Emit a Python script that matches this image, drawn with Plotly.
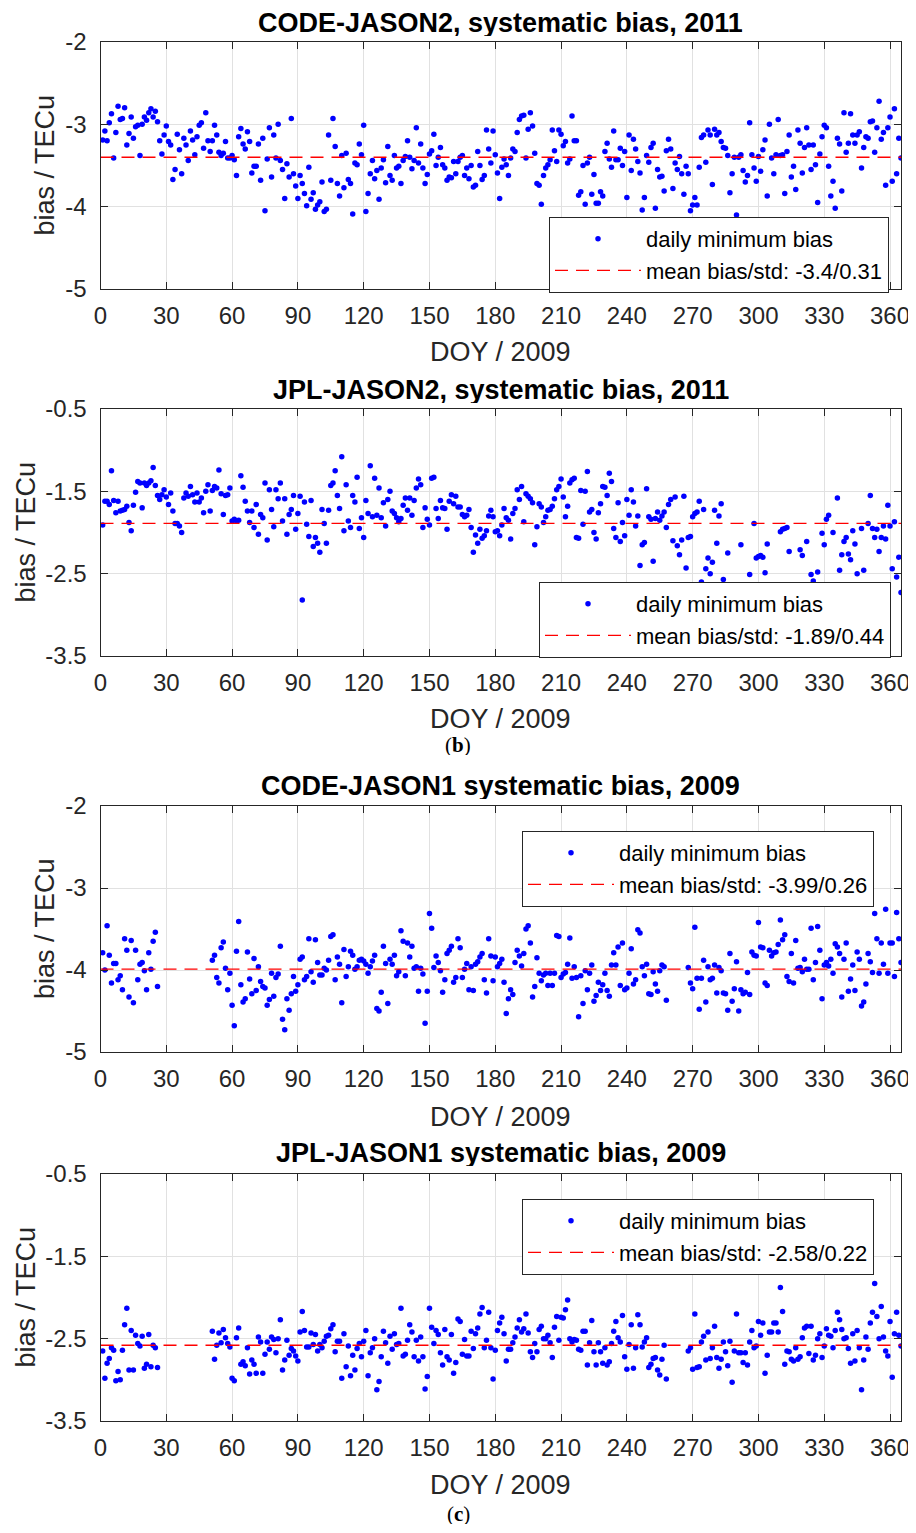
import plotly.graph_objects as go

# ---------------- DATA ----------------
# Panel 1: CODE-JASON2 2011 (consecutive DOY from 1)
code2_vals = [
    -3.19, -3.08, -3.20, -2.98, -2.87, -3.41, -3.10, -2.78, -2.94, -2.93,
    -2.80, -3.25, -3.11, -2.91, -3.17, -3.03, -3.01, -3.38, -3.00,
    -2.91, -2.95, -2.86, -2.81, -2.91, -2.84, -2.97, -3.20, -3.36, -3.13,
    -3.02, -3.21, -3.25, -3.67, -3.55, -3.12, -3.31, -3.60, -3.17, -3.25,
    -3.44, -3.08, -3.19, -3.37, -3.15, -3.01, -2.98, -3.29, -2.86, -3.20,
    -3.33, -3.20, -3.01, -3.13, -3.34, -3.38, -3.35, -3.21, -3.41, -3.41,
    -3.38, -3.43, -3.62, -3.15, -3.05, -3.24, -3.30, -3.09, -3.21, -3.59,
    -3.51, -3.51, -3.24, -3.68, -3.17, -4.05, -3.42, -3.04, -3.64, -3.13,
    -3.41, -3.00, -3.44, -3.55, -3.90, -3.48, -3.64, -2.93, -3.60, -3.75,
    -3.90, -3.62, -3.72, -3.84, -3.99, -3.52, -3.91, -3.83, -4.03, -3.98,
    -3.94, -3.70, -4.06, -4.03, -3.13, -3.68, -2.93, -3.27, -3.72, -3.87,
    -3.38, -3.77, -3.35, -3.67, -3.72, -4.09, -3.47, -3.49, -3.24, -3.37,
    -3.01, -4.06, -3.84,
    -3.60, -3.44, -3.66, -3.56, -3.91, -3.53, -3.43, -3.71, -3.27, -3.62,
    -3.68, -3.38, -3.53, -3.51, -3.72, -3.44, -3.39, -3.20, -3.40, -3.54,
    -3.44, -3.04, -3.47, -3.24, -3.53, -3.72, -3.61, -3.36, -3.32, -3.12,
    -3.50, -3.40, -3.28, -3.49, -3.53, -3.68, -3.64, -3.65, -3.45, -3.60,
    -3.45, -3.40, -3.38, -3.62, -3.53, -3.66, -3.50, -3.76, -3.74, -3.33,
    -3.50, -3.67, -3.62, -3.07, -3.30, -3.47, -3.08, -3.37, -3.59, -3.90,
    -3.52, -3.42, -3.49, -3.62, -3.41, -3.30, -3.33, -3.10, -2.94, -2.90,
    -2.89, -3.41, -3.06, -2.86, -3.02, -3.35, -3.72, -3.74, -3.97, -3.62,
    -3.53, -3.49, -3.43, -3.07, -3.32, -3.45, -3.07, -3.12, -3.26, -3.21,
    -3.47, -3.42, -2.90, -3.20, -3.20, -3.86, -3.82, -3.50, -3.97, -3.47,
    -3.40, -3.85, -3.61, -3.96, -3.96, -3.82, -3.87, -3.33, -3.23, -3.42,
    -3.52, -3.08, -3.43, -3.43, -3.29, -3.50, -3.33, -3.89, -3.13, -3.56,
    -3.18, -3.30, -3.45, -3.59, -4.04,
    -3.89, -3.38, -3.46, -3.28, -3.23, -4.02, -3.55, -3.64, -3.63, -3.81,
    -3.32, -3.18, -3.30, -3.78, -3.47, -3.55, -3.39, -3.60, -3.85, -3.51,
    -3.60, -4.05, -3.98, -3.89, -3.98, -3.52, -3.16, -3.13, -3.46, -3.07,
    -3.13, -3.73, -3.06, -3.13, -3.10, -3.21, -3.28, -3.29, -3.38, -3.83,
    -3.60, -3.40, -4.10, -3.40, -3.37, -3.56, -3.70, -3.62, -2.98, -3.37,
    -3.53, -3.69, -3.39, -3.57, -3.31, -3.19, -3.87, -3.00, -3.41, -3.60,
    -3.37, -2.94, -3.38, -3.37, -3.84, -3.33, -3.13, -3.64, -3.51, -3.79,
    -3.07, -3.23, -3.59, -3.28, -3.04, -3.25, -3.55, -3.25, -3.49, -3.95,
    -3.36, -3.15, -3.01, -3.04, -3.51, -3.87, -3.69, -4.02, -3.17, -3.24,
    -3.81, -2.86, -3.34, -3.23, -2.87, -3.13, -3.23, -3.13, -3.09, -3.53,
    -3.28, -3.15, -3.17, -2.97, -2.96, -3.34, -3.04, -2.72, -3.18, -3.10,
    -3.74, -3.04, -2.91, -3.69, -2.81, -3.60, -3.17, -3.41,
]
code2_start_day = 1
code2_mean = -3.4
code2_label = "mean bias/std: -3.4/0.31"

# Panel 2: JPL-JASON2 2011
jpl2_vals_a = [   # consecutive DOY from 1
    -1.91, -1.62, -1.62, -1.66, -1.25, -1.61, -1.76, -1.62, -1.74, -1.73,
    -1.72, -1.68, -1.88, -1.98, -1.67, -1.51, -1.38, -1.40, -1.70, -1.40,
    -1.43, -1.40, -1.37, -1.21, -1.43, -1.55, -1.60, -1.54, -1.48, -1.57,
    -1.66, -1.52, -1.74, -1.89, -1.89, -1.92, -2.00, -1.58, -1.52, -1.56,
    -1.44, -1.54, -1.63, -1.52, -1.63, -1.58, -1.76, -1.50, -1.42, -1.74,
    -1.49, -1.44, -1.46, -1.24, -1.53, -1.78, -1.55, -1.54, -1.46, -1.86,
    -1.84, -1.86, -1.85, -1.31, -1.45, -1.62, -1.74, -1.88, -1.74, -1.94,
    -1.66, -2.02, -1.78, -1.82, -1.40, -2.09, -1.48, -1.72, -1.93, -1.48,
    -1.59, -1.40, -1.86, -1.59, -2.02, -1.78, -1.72, -1.55, -1.96, -1.77,
    -1.56, -2.82, -1.63, -1.90, -2.05, -1.61, -2.17, -2.06, -2.13, -2.24,
    -1.72, -1.89, -2.13, -1.73, -1.43, -1.40, -1.25, -1.55, -1.71, -1.08,
    -1.98, -1.42, -1.86, -1.94, -1.55, -1.63, -1.33, -1.95, -1.82, -2.06,
    -1.61, -1.77,
    -1.19, -1.81, -1.34, -1.79, -1.46, -1.82, -1.64, -1.92, -1.60, -1.50,
    -1.74, -1.77, -1.82, -1.87, -1.83, -1.67, -1.58, -1.73, -1.58, -1.79,
    -1.61, -1.46, -1.35, -1.42, -1.94, -1.70, -1.84, -1.91, -1.34, -1.33,
    -1.71, -1.83, -1.61, -1.70, -1.71, -1.96, -1.62, -1.54, -1.65, -1.56,
    -1.69, -1.69, -1.78, -1.81, -1.79, -1.72, -1.94, -2.24, -2.03, -2.13,
    -1.96, -2.07, -2.04, -1.98, -1.80, -1.73, -1.81, -1.99, -1.98, -2.04,
    -1.91, -1.71, -1.82, -1.85, -2.08, -1.77, -1.71, -1.48, -1.60, -1.44,
    -1.87, -1.53, -1.56, -1.59, -1.64, -2.15, -1.93, -1.65, -1.69, -1.88,
    -1.81, -1.73, -1.72, -1.68, -1.59, -1.48, -1.44, -1.35, -1.57, -1.81,
    -1.68, -1.40, -1.36, -1.34, -2.06, -2.07, -1.49, -1.90, -1.50, -1.26,
    -1.75, -1.72, -2.00, -2.08, -1.76, -1.65, -1.44, -1.45, -1.55, -1.28,
    -1.38, -1.95, -2.06, -1.64, -2.11, -1.88, -2.04, -1.60, -1.79, -1.48,
    -1.63, -1.92, -1.80, -2.40,
    -2.15, -2.12, -1.47, -1.81, -1.84, -2.35, -1.83, -1.75, -1.85, -1.80,
    -1.75, -1.94, -1.66, -1.60, -2.10, -1.57, -2.16, -2.27, -2.09, -1.56,
    -2.43, -2.06, -2.05, -1.81, -1.77, -1.75, -1.62, -2.60, -1.72, -2.44,
    -2.31, -2.50, -2.36, -1.73, -2.13, -1.80, -1.65, -2.57,
]
jpl2_days_b = [
    286, 292, 296, 298, 299, 300, 301, 302, 303, 304,
    310, 311, 312, 313, 314, 319, 320, 322, 324, 325,
    327, 329, 330, 331, 332, 334, 336, 337, 338, 339,
    340, 341, 342, 343, 344, 345, 347, 348, 350, 351,
    352, 353, 354, 355, 356, 357, 358, 359, 360, 361,
    362, 363, 364, 365,
]
jpl2_vals_b = [
    -2.25, -2.15, -2.51, -1.89, -2.31, -2.29, -2.28, -2.30, -2.49, -2.14,
    -1.99, -1.96, -1.95, -1.94, -2.23, -2.21, -2.28, -2.11, -2.51, -2.59,
    -2.48, -2.01, -2.15, -1.84, -1.79, -2.00, -1.58, -2.46, -2.27, -2.11,
    -2.06, -2.26, -2.33, -1.98, -2.14, -2.50, -1.95, -2.46, -1.89, -1.55,
    -1.95, -2.06, -1.96, -2.23, -2.06, -1.92, -2.08, -1.67, -1.92, -2.44,
    -1.87, -2.54, -2.30, -2.73,
]
jpl2_mean = -1.89
jpl2_label = "mean bias/std: -1.89/0.44"

# Panel 3: CODE-JASON1 2009 (three runs of consecutive DOY)
code1_seg_starts = [1, 51, 268]
code1_seg_a = [
    -3.79, -4.00, -3.46, -3.82, -4.16, -3.92, -3.92, -4.12, -4.07, -4.24,
    -3.62, -3.76, -4.33, -3.64, -4.40, -3.76, -4.12, -3.93, -3.91, -4.01,
    -4.24, -3.79, -3.99, -3.65, -3.54, -4.20,
]
code1_seg_b = [
    -3.88, -3.82, -4.09, -4.16, -3.73, -3.66, -3.98, -4.24, -4.04, -4.43,
    -4.68, -3.77, -3.41, -4.18, -4.39, -4.35, -3.78, -4.11, -4.29, -3.86,
    -4.25, -3.96, -4.14, -4.20, -4.22, -4.43, -4.36, -4.04, -4.32, -4.09,
    -4.05, -3.71, -4.60, -4.73, -4.35, -4.49, -4.29, -4.08, -4.26, -4.18,
    -3.87, -3.84, -4.12, -4.08, -3.62, -4.02, -4.15, -3.63, -3.91, -4.06,
    -4.06, -3.98, -4.00, -3.88, -3.59, -3.57, -4.12, -3.84, -3.93, -4.40,
    -3.75, -4.08, -3.96, -3.77, -3.82, -3.99, -3.96, -3.88, -3.87, -3.89,
    -3.93, -4.04,
    -3.96, -3.89, -3.82, -4.47, -4.50, -4.27, -3.71, -3.92, -4.41, -3.87,
    -3.93, -3.82, -4.07, -4.02, -3.52, -3.65, -4.07, -3.67, -3.84, -3.71,
    -3.98, -3.96, -4.26, -3.98, -4.05, -4.65, -4.26, -3.31, -3.49, -3.97,
    -3.83, -3.91, -4.01, -4.27, -4.12, -3.80, -3.76, -3.71, -4.15, -4.09,
    -3.62, -3.73, -4.09, -3.99, -3.92, -4.24, -3.96, -4.25, -3.93, -3.90,
    -3.84, -3.80, -4.12, -4.28, -3.62, -3.83, -4.13, -3.84, -3.96, -3.92,
    -3.87, -4.15, -4.53, -4.35, -4.24, -4.30, -3.91, -3.76, -3.83, -3.95,
    -3.80, -3.50, -3.46, -3.67, -4.33, -4.20, -3.85, -4.04, -4.13, -4.06,
    -4.04, -4.19, -4.04, -4.19, -4.04, -3.58, -3.59, -4.09, -4.05, -4.03,
    -3.93, -3.61, -4.10, -3.96, -4.09, -4.57, -4.07, -4.41, -4.01, -4.24,
    -4.04, -3.94, -4.38, -4.31, -4.15, -4.25, -4.18, -4.04, -4.25, -4.32,
    -3.94, -3.79, -3.94, -3.72, -4.19, -3.67, -4.24, -4.22, -4.04, -3.74,
    -4.17, -4.12, -3.51, -3.55,
    -3.96, -4.07, -3.93, -4.29, -4.30, -4.02, -4.17, -4.26, -4.01, -3.94,
    -3.96, -4.37,
]
code1_seg_c = [
    -3.97, -4.16, -4.23, -3.48, -4.10, -4.48, -4.10, -3.88, -4.39, -3.96,
    -4.12, -4.10, -3.94, -4.28, -3.97, -4.01, -4.28, -4.29, -4.49, -3.80,
    -4.38, -4.23, -3.90, -4.50, -4.24, -4.29, -4.27, -4.03, -4.30, -3.78,
    -3.82, -3.83, -3.42, -3.72, -3.73, -4.16, -4.19, -3.76, -3.83, -3.79,
    -3.78, -3.69, -3.39, -3.63, -3.57, -4.08, -4.14, -3.80, -4.16, -3.64,
    -3.98, -3.97, -4.02, -3.87, -3.99, -3.99, -3.49, -4.12, -3.91, -3.47,
    -3.76, -4.35, -3.94, -3.91, -3.95, -3.87, -4.04, -3.68, -3.72, -3.80,
    -4.33, -3.87, -3.67, -4.26, -4.11, -3.94, -4.25, -3.78, -3.87, -4.44,
    -4.39, -4.17, -3.80, -3.90, -4.03, -3.31, -3.62, -4.04, -3.67, -3.93,
    -3.26, -4.04, -3.67, -3.67, -4.08, -3.30, -3.62, -3.91,
]
code1_mean = -3.99
code1_label = "mean bias/std: -3.99/0.26"

# Panel 4: JPL-JASON1 2009
jpl1_seg_starts = [1, 51, 268]
jpl1_seg_a = [
    -2.65, -2.98, -2.80, -2.74, -2.61, -2.64, -3.01, -2.90, -3.00, -2.64,
    -2.33, -2.13, -2.88, -2.40, -2.88, -2.46, -2.56, -2.59, -2.47, -2.86,
    -2.81, -2.45, -2.84, -2.58, -2.61, -2.85,
]
jpl1_seg_b = [
    -2.41, -2.75, -2.58, -2.43, -2.55, -2.39, -2.49, -2.56, -2.60, -2.98,
    -3.01, -2.49, -2.37, -2.81, -2.78, -2.83, -2.61, -2.93, -2.76, -2.81,
    -2.92, -2.48, -2.54, -2.92, -2.69, -2.54, -2.63, -2.48, -2.51, -2.67,
    -2.50, -2.27, -2.88, -2.76, -2.52, -2.70, -2.62, -2.65, -2.71, -2.77,
    -2.42, -2.17, -2.40, -2.60, -2.60, -2.43, -2.57, -2.45, -2.65, -2.57,
    -2.61, -2.53, -2.47, -2.46, -2.38, -2.33, -2.66, -2.53, -2.53, -2.98,
    -2.44, -2.84, -2.59, -2.95, -2.70, -2.88, -2.62, -2.56, -2.72, -2.53,
    -2.40, -2.95,
    -2.67, -2.61, -2.50, -3.12, -3.02, -2.72, -2.41, -2.55, -2.80, -2.47,
    -2.63, -2.44, -2.57, -2.56, -2.13, -2.71, -2.69, -2.52, -2.33, -2.42,
    -2.72, -2.52, -2.77, -2.48, -2.72, -3.11, -2.96, -2.13, -2.36, -2.56,
    -2.40, -2.45, -2.67, -2.82, -2.39, -2.72, -2.76, -2.45, -2.92, -2.79,
    -2.26, -2.29, -2.69, -2.51, -2.71, -2.71, -2.41, -2.62, -2.44, -2.37,
    -2.20, -2.12, -2.61, -2.52, -2.18, -2.61, -2.99, -2.64, -2.40, -2.31,
    -2.24, -2.44, -2.77, -2.63, -2.63, -2.55, -2.48, -2.37, -2.27, -2.42,
    -2.38, -2.20, -2.43, -2.66, -2.73, -2.56, -2.66, -2.39, -2.35, -2.50,
    -2.50, -2.46, -2.55, -2.73, -2.36, -2.23, -2.52, -2.24, -2.25, -2.15,
    -2.03, -2.50, -2.54, -2.51, -2.52, -2.63, -2.64, -2.41, -2.41, -2.82,
    -2.55, -2.28, -2.66, -2.82, -2.55, -2.66, -2.80, -2.61, -2.82, -2.78,
    -2.56, -2.41, -2.29, -2.49, -2.54, -2.22, -2.72, -2.87, -2.57, -2.33,
    -2.86, -2.61, -2.21, -2.33,
    -2.60, -2.54, -2.49, -2.85, -2.81, -2.74, -2.73, -2.88, -2.94, -2.75,
    -2.58, -2.99,
]
jpl1_seg_c = [
    -2.65, -2.61, -2.87, -2.20, -2.85, -2.84, -2.54, -2.47, -2.76, -2.42,
    -2.74, -2.61, -2.35, -2.73, -2.86, -2.75, -2.54, -2.66, -2.83, -2.53,
    -3.03, -2.65, -2.20, -2.67, -2.67, -2.79, -2.67, -2.82, -2.54, -2.40,
    -2.61, -2.59, -2.29, -2.46, -2.31, -2.92, -2.70, -2.42, -2.42, -2.31,
    -2.31, -2.42, -1.88, -2.17, -2.81, -2.65, -2.66, -2.75, -2.77, -2.61,
    -2.75, -2.72, -2.49, -2.37, -2.35, -2.68, -2.35, -2.76, -2.70, -2.50,
    -2.44, -2.73, -2.59, -2.38, -2.46, -2.47, -2.61, -2.40, -2.18, -2.27,
    -2.39, -2.50, -2.49, -2.62, -2.80, -2.44, -2.77, -2.40, -2.61, -3.12,
    -2.76, -2.48, -2.63, -2.31, -2.18, -1.83, -2.23, -2.50, -2.11, -2.48,
    -2.65, -2.71, -2.29, -2.97, -2.44, -2.18, -2.46, -2.59,
]
jpl1_mean = -2.58
jpl1_label = "mean bias/std: -2.58/0.22"

titles = [
    "CODE-JASON2, systematic bias, 2011",
    "JPL-JASON2, systematic bias, 2011",
    "CODE-JASON1 systematic bias, 2009",
    "JPL-JASON1 systematic bias, 2009",
]
x_ticks = [0, 30, 60, 90, 120, 150, 180, 210, 240, 270, 300, 330, 360]
y_ticks_a = [-5, -4, -3, -2]
y_ticks_b = [-3.5, -2.5, -1.5, -0.5]


def seg_days(starts, segs):
    d, v = [], []
    for s, seg in zip(starts, segs):
        d += list(range(s, s + len(seg)))
        v += seg
    return d, v


p1_days = list(range(code2_start_day, code2_start_day + len(code2_vals)))
p1_vals = code2_vals
p2_days = list(range(1, 1 + len(jpl2_vals_a))) + jpl2_days_b
p2_vals = jpl2_vals_a + jpl2_vals_b
p3_days, p3_vals = seg_days(code1_seg_starts, [code1_seg_a, code1_seg_b, code1_seg_c])
p4_days, p4_vals = seg_days(jpl1_seg_starts, [jpl1_seg_a, jpl1_seg_b, jpl1_seg_c])

panels = [
    (p1_days, p1_vals, code2_mean, code2_label, y_ticks_a),
    (p2_days, p2_vals, jpl2_mean, jpl2_label, y_ticks_b),
    (p3_days, p3_vals, code1_mean, code1_label, y_ticks_a),
    (p4_days, p4_vals, jpl1_mean, jpl1_label, y_ticks_b),
]

# ---------------- LAYOUT ----------------
# positions below are page pixels; the page body has an 8px margin
OFF = 8
W, H = 908, 1517
FONT = "Liberation Sans, Arial, Helvetica, sans-serif"
AX = "#262626"
x_left, x_right = 100.5, 901
plot_px = [(42, 289), (409, 656), (806, 1052), (1174, 1421)]   # top, bottom
title_px = [23, 390, 786, 1153]
xlabel_px = [352, 719, 1117, 1485]
ylabel_x = [45, 25, 45, 25]
legend_px = [(549, 217), (539, 582), (522, 831), (522, 1199)]


def fx(p):
    return (p - OFF) / W


def fy(p):
    return 1 - (p - OFF) / H


fig = go.Figure()
layout = dict(
    width=W, height=H, autosize=False,
    margin=dict(l=0, r=0, t=0, b=0, pad=0, autoexpand=False),
    paper_bgcolor="white", plot_bgcolor="white",
    font=dict(family=FONT, color="#000000"),
    showlegend=True,
)
annotations = []

for i, (days, vals, mean, label, yt) in enumerate(panels):
    n = "" if i == 0 else str(i + 1)
    xa, ya = "x" + n, "y" + n
    lg = "legend" + n
    fig.add_trace(go.Scatter(
        x=days, y=vals, mode="markers", name="daily minimum bias",
        marker=dict(color="#0000ff", size=5.5, line=dict(width=0)),
        xaxis=xa, yaxis=ya, legend=lg, legendgroup="a%d" % i,
    ))
    fig.add_trace(go.Scatter(
        x=[0, 365], y=[mean, mean], mode="lines", name=label,
        line=dict(color="#ff0000", width=1.3, dash="13px,8px"),
        xaxis=xa, yaxis=ya, legend=lg, legendgroup="b%d" % i,
    ))
    top, bot = plot_px[i]
    layout["xaxis" + n] = dict(
        domain=[fx(x_left), fx(x_right)], anchor=ya, range=[0, 365],
        tickvals=x_ticks, ticktext=[str(t) for t in x_ticks],
        ticks="inside", ticklen=7, tickcolor=AX, automargin=False,
        showline=True, linecolor=AX, linewidth=1, mirror="ticks",
        showgrid=True, gridcolor="#e1e1e1", gridwidth=1, zeroline=False,
        tickfont=dict(size=24, color=AX, family=FONT),
        ticklabelstandoff=5, ticklabeloverflow="allow",
    )
    layout["yaxis" + n] = dict(
        domain=[fy(bot), fy(top)], anchor=xa, range=[yt[0], yt[-1]],
        tickvals=yt, ticktext=[("%g" % t) for t in yt],
        ticks="inside", ticklen=7, tickcolor=AX, automargin=False,
        showline=True, linecolor=AX, linewidth=1, mirror="ticks",
        showgrid=True, gridcolor="#e1e1e1", gridwidth=1, zeroline=False,
        tickfont=dict(size=24, color=AX, family=FONT),
        ticklabelstandoff=8, ticklabeloverflow="allow",
    )
    lx, ly = legend_px[i]
    layout[lg] = dict(
        x=fx(lx), y=fy(ly), xanchor="left", yanchor="top",
        xref="paper", yref="paper",
        bgcolor="white", bordercolor=AX, borderwidth=1,
        font=dict(size=22, family=FONT, color="#000000"),
        itemwidth=86, traceorder="grouped", tracegroupgap=0,
    )
    xc = fx((x_left + x_right) / 2)
    annotations.append(dict(
        text="<b>%s</b>" % titles[i], x=xc, y=fy(title_px[i]),
        xref="paper", yref="paper", xanchor="center", yanchor="middle",
        height=26, valign="middle",
        showarrow=False, font=dict(size=27, family=FONT, color="#000000"),
    ))
    annotations.append(dict(
        text="DOY / 2009", x=xc, y=fy(xlabel_px[i]),
        xref="paper", yref="paper", xanchor="center", yanchor="middle",
        showarrow=False, font=dict(size=27, family=FONT, color=AX),
    ))
    annotations.append(dict(
        text="bias / TECu", x=fx(ylabel_x[i]), y=fy((top + bot) / 2),
        xref="paper", yref="paper", xanchor="center", yanchor="middle",
        textangle=-90, showarrow=False,
        font=dict(size=27, family=FONT, color=AX),
    ))

for txt, ypx in [("(<b>b</b>)", 745), ("(<b>c</b>)", 1514)]:
    annotations.append(dict(
        text=txt, x=fx(458), y=fy(ypx), xref="paper", yref="paper",
        xanchor="center", yanchor="middle", showarrow=False,
        height=20, valign="middle",
        font=dict(size=21, family="Liberation Serif, Times New Roman, serif", color="#000000"),
    ))

layout["annotations"] = annotations
fig.update_layout(**layout)
fig.write_html("out.html")
